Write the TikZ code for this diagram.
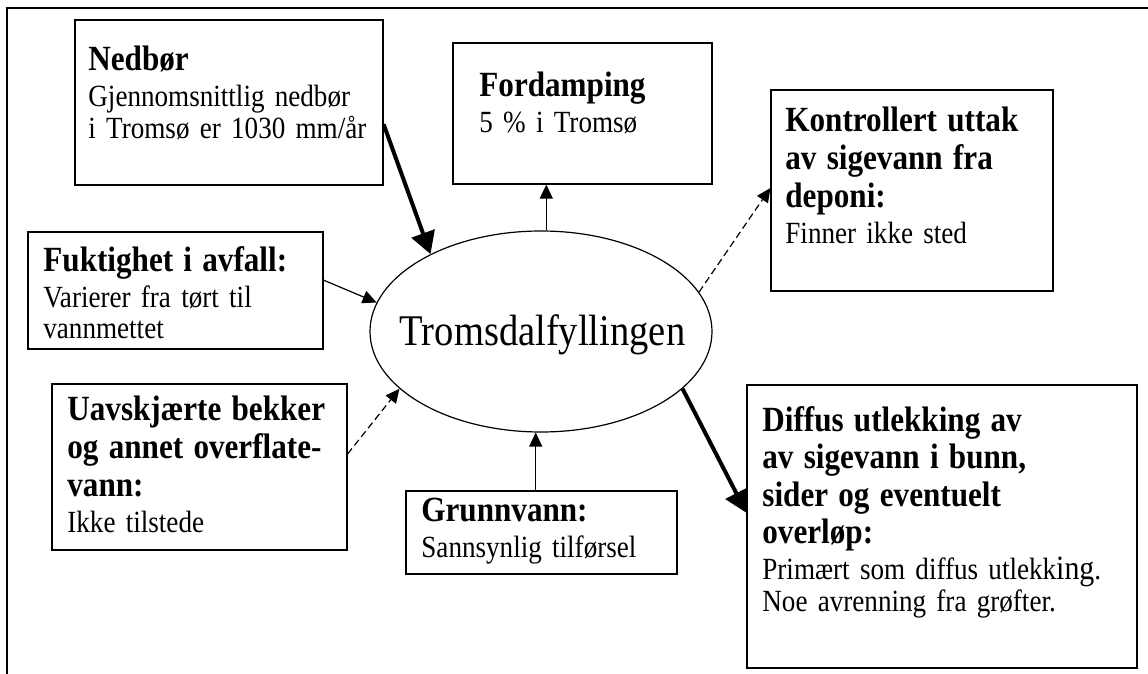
\documentclass[tikz,border=0pt]{standalone}
\usepackage{fontspec}
\setmainfont{Liberation Serif}[FakeStretch=0.88]
\usetikzlibrary{arrows.meta, shapes.geometric}

\newcommand{\boxhead}[1]{{\fontsize{17.7}{18.8}\selectfont\bfseries #1\par}\vspace{2.2pt}}

\begin{document}
\begin{tikzpicture}[
        x=0.5pt, y=-0.5pt,
        box/.style={draw, line width=0.6pt, rectangle, inner sep=0pt},
        txt/.style={anchor=base west, inner sep=0pt, text width=220pt, align=left,
            yshift=-2pt, font=\fontsize{15.4}{15.8}\selectfont},
        flow/.style={line width=0.6pt, -{Triangle[length=7pt, width=6.5pt]}},
        bigflow/.style={line width=2pt, -{Triangle[length=11pt, width=12pt]}},
        leak/.style={flow, dash pattern=on 3.5pt off 2pt}
    ]
        \useasboundingbox (0,0) rectangle (1148,674);

        % Frame: only the top and left sides are shown
        \draw[line width=0.8pt] (1148,8) -| (7,674);

        % The landfill in the middle
        \node[draw, ellipse, line width=0.6pt, minimum width=171pt, minimum height=100.5pt,
            inner sep=0pt] (fylling) at (541,331.5) {};
        \node[anchor=base, inner sep=0pt, font=\fontsize{21.9}{24}\selectfont]
            (fyllingtxt) at (542.5,346) {Tromsdalfyllingen};

        % Boxes round the landfill
        \node[box, minimum width=154pt, minimum height=82.5pt] (nedbor) at (229,102.5) {};
        \node[box, minimum width=129.5pt, minimum height=70.5pt] (fordamp) at (582.5,113.5) {};
        \node[box, minimum width=141pt, minimum height=100.5pt] (kontroll) at (912,190.5) {};
        \node[box, minimum width=147.5pt, minimum height=58.5pt] (fukt) at (175.5,290.5) {};
        \node[box, minimum width=147.5pt, minimum height=83pt] (uavsk) at (199.5,467) {};
        \node[box, minimum width=135.5pt, minimum height=41.5pt] (grunn) at (541.5,532.5) {};
        \node[box, minimum width=195pt, minimum height=141.5pt] (diffus) at (942,526.5) {};

        % Texts in the boxes
        \node[txt] (nedbortxt) at (88,67) {\boxhead{Nedbør}Gjennomsnittlig nedbør\\ i Tromsø er 1030 mm/år};
        \node[txt] (fordamptxt) at (479,93) {\boxhead{Fordamping}5 \% i Tromsø};
        \node[txt] (kontrolltxt) at (785,128) {\boxhead{Kontrollert uttak\\ av sigevann fra\\ deponi:}Finner ikke sted};
        \node[txt] (fukttxt) at (43,267) {\boxhead{Fuktighet i avfall:}Varierer fra tørt til\\ vannmettet};
        \node[txt] (uavsktxt) at (67,417) {\boxhead{Uavskjærte bekker\\ og annet overflate-\\ vann:}Ikke tilstede};
        \node[txt] (grunntxt) at (421,517) {\boxhead{Grunnvann:}Sannsynlig tilførsel};
        \node[txt] (diffustxt) at (762,427) {\boxhead{Diffus utlekking av\\ av sigevann i bunn,\\ sider og eventuelt\\ overløp:}Primært som diffus utlekk{\fontsize{17}{15.8}\selectfont ing}.\\ Noe avrenning fra grøfter.};

        % Flows in and out
        \draw[bigflow] (nedbor.-8) -- (fylling.145);
        \draw[flow] (fylling.87) -- (fylling.87 |- fordamp.south);
        \draw[leak] (fylling.14) -- (kontroll.179);
        \draw[flow] (fukt.4) -- (fylling.170);
        \draw[leak] (uavsk.5) -- (fylling.-158);
        \draw[flow] (grunn.north -| fylling.267) -- (fylling.267);
        \draw[bigflow] (fylling.-22) -- (diffus.176);
    \end{tikzpicture}
\end{document}
